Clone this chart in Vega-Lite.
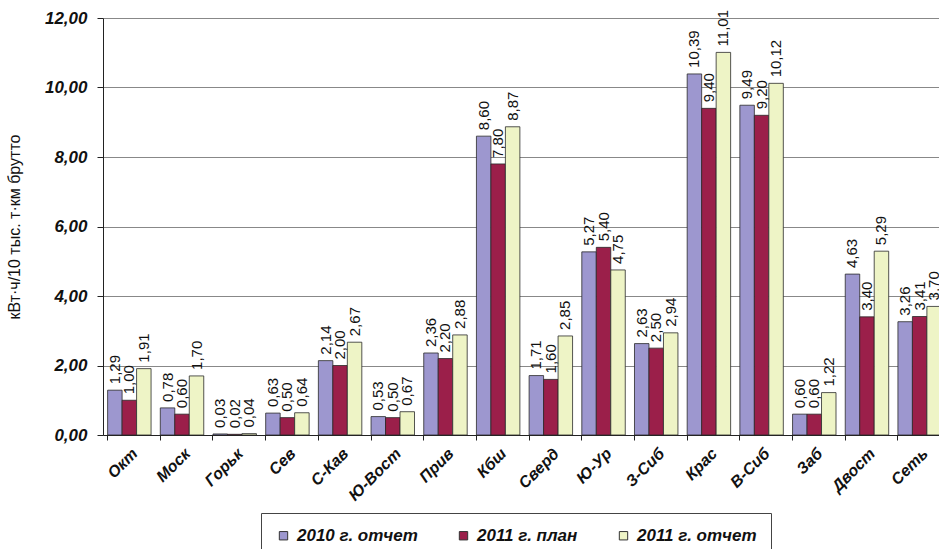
{
  "$schema": "https://vega.github.io/schema/vega-lite/v6.json",
  "autosize": {"type": "none"},
  "padding": {"left": 103, "top": 18, "right": 0, "bottom": 114},
  "width": 843,
  "height": 417,
  "background": "white",
  "config": {
    "locale": {"number": {"decimal": ",", "thousands": " ", "grouping": [3], "currency": ["", ""]}},
    "view": {"stroke": null},
    "font": "Liberation Sans"
  },
  "data": {
    "values": [
      {"road": "Окт", "series": "2010 г. отчет", "value": 1.29},
      {"road": "Окт", "series": "2011 г. план", "value": 1.00},
      {"road": "Окт", "series": "2011 г. отчет", "value": 1.91},
      {"road": "Моск", "series": "2010 г. отчет", "value": 0.78},
      {"road": "Моск", "series": "2011 г. план", "value": 0.60},
      {"road": "Моск", "series": "2011 г. отчет", "value": 1.70},
      {"road": "Горьк", "series": "2010 г. отчет", "value": 0.03},
      {"road": "Горьк", "series": "2011 г. план", "value": 0.02},
      {"road": "Горьк", "series": "2011 г. отчет", "value": 0.04},
      {"road": "Сев", "series": "2010 г. отчет", "value": 0.63},
      {"road": "Сев", "series": "2011 г. план", "value": 0.50},
      {"road": "Сев", "series": "2011 г. отчет", "value": 0.64},
      {"road": "С-Кав", "series": "2010 г. отчет", "value": 2.14},
      {"road": "С-Кав", "series": "2011 г. план", "value": 2.00},
      {"road": "С-Кав", "series": "2011 г. отчет", "value": 2.67},
      {"road": "Ю-Вост", "series": "2010 г. отчет", "value": 0.53},
      {"road": "Ю-Вост", "series": "2011 г. план", "value": 0.50},
      {"road": "Ю-Вост", "series": "2011 г. отчет", "value": 0.67},
      {"road": "Прив", "series": "2010 г. отчет", "value": 2.36},
      {"road": "Прив", "series": "2011 г. план", "value": 2.20},
      {"road": "Прив", "series": "2011 г. отчет", "value": 2.88},
      {"road": "Кбш", "series": "2010 г. отчет", "value": 8.60},
      {"road": "Кбш", "series": "2011 г. план", "value": 7.80},
      {"road": "Кбш", "series": "2011 г. отчет", "value": 8.87},
      {"road": "Сверд", "series": "2010 г. отчет", "value": 1.71},
      {"road": "Сверд", "series": "2011 г. план", "value": 1.60},
      {"road": "Сверд", "series": "2011 г. отчет", "value": 2.85},
      {"road": "Ю-Ур", "series": "2010 г. отчет", "value": 5.27},
      {"road": "Ю-Ур", "series": "2011 г. план", "value": 5.40},
      {"road": "Ю-Ур", "series": "2011 г. отчет", "value": 4.75},
      {"road": "З-Сиб", "series": "2010 г. отчет", "value": 2.63},
      {"road": "З-Сиб", "series": "2011 г. план", "value": 2.50},
      {"road": "З-Сиб", "series": "2011 г. отчет", "value": 2.94},
      {"road": "Крас", "series": "2010 г. отчет", "value": 10.39},
      {"road": "Крас", "series": "2011 г. план", "value": 9.40},
      {"road": "Крас", "series": "2011 г. отчет", "value": 11.01},
      {"road": "В-Сиб", "series": "2010 г. отчет", "value": 9.49},
      {"road": "В-Сиб", "series": "2011 г. план", "value": 9.20},
      {"road": "В-Сиб", "series": "2011 г. отчет", "value": 10.12},
      {"road": "Заб", "series": "2010 г. отчет", "value": 0.60},
      {"road": "Заб", "series": "2011 г. план", "value": 0.60},
      {"road": "Заб", "series": "2011 г. отчет", "value": 1.22},
      {"road": "Двост", "series": "2010 г. отчет", "value": 4.63},
      {"road": "Двост", "series": "2011 г. план", "value": 3.40},
      {"road": "Двост", "series": "2011 г. отчет", "value": 5.29},
      {"road": "Сеть", "series": "2010 г. отчет", "value": 3.26},
      {"road": "Сеть", "series": "2011 г. план", "value": 3.41},
      {"road": "Сеть", "series": "2011 г. отчет", "value": 3.70}
    ]
  },
  "encoding": {
    "x": {
      "field": "road", "type": "nominal", "sort": null,
      "scale": {"paddingInner": 0.175, "paddingOuter": 0.0875},
      "axis": {
        "title": null, "labelAngle": -45, "labelFont": "Liberation Sans", "labelFontSize": 16,
        "labelFontWeight": "bold", "labelFontStyle": "italic", "labelColor": "#111",
        "bandPosition": 0, "tickSize": 5, "tickColor": "#222", "domainColor": "#222",
        "labelPadding": 5, "grid": false
      }
    },
    "xOffset": {"field": "series", "type": "nominal", "sort": ["2010 г. отчет", "2011 г. план", "2011 г. отчет"]},
    "y": {
      "field": "value", "type": "quantitative",
      "scale": {"domain": [0, 12], "nice": false},
      "axis": {
        "title": "кВт·ч/10 тыс. т·км брутто", "titleFont": "Liberation Sans", "titleFontSize": 16,
        "titleFontWeight": "normal", "titleColor": "#111", "titlePadding": 22,
        "values": [0, 2, 4, 6, 8, 10, 12], "format": ".2f",
        "labelFont": "Liberation Sans", "labelFontSize": 17, "labelFontWeight": "bold",
        "labelFontStyle": "italic", "labelColor": "#111", "labelPadding": 10,
        "tickSize": 6, "tickColor": "#222", "domainColor": "#222",
        "grid": true, "gridColor": "#888", "gridWidth": 1
      }
    }
  },
  "layer": [
    {
      "mark": {"type": "bar", "stroke": "#2a2a2a", "strokeWidth": 0.8},
      "encoding": {
        "color": {
          "field": "series", "type": "nominal",
          "scale": {"domain": ["2010 г. отчет", "2011 г. план", "2011 г. отчет"], "range": ["#9d97cf", "#9b1f4a", "#eef4c6"]},
          "legend": {
            "title": null, "orient": "none", "legendX": 158, "legendY": 495,
            "direction": "horizontal", "columns": 3, "columnPadding": 37,
            "padding": 14, "strokeColor": "#444", "fillColor": "white",
            "symbolType": "square", "symbolSize": 70, "symbolStrokeColor": "#333", "symbolStrokeWidth": 1,
            "labelFont": "Liberation Sans", "labelFontSize": 17, "labelFontWeight": "bold",
            "labelFontStyle": "italic", "labelColor": "#111", "labelOffset": 5, "labelLimit": 300
          }
        }
      }
    },
    {
      "mark": {"type": "text", "angle": 270, "align": "left", "baseline": "middle", "dx": 6, "fontSize": 15, "font": "Liberation Sans", "color": "#111"},
      "encoding": {
        "text": {"field": "value", "type": "quantitative", "format": ".2f"}
      }
    }
  ]
}
